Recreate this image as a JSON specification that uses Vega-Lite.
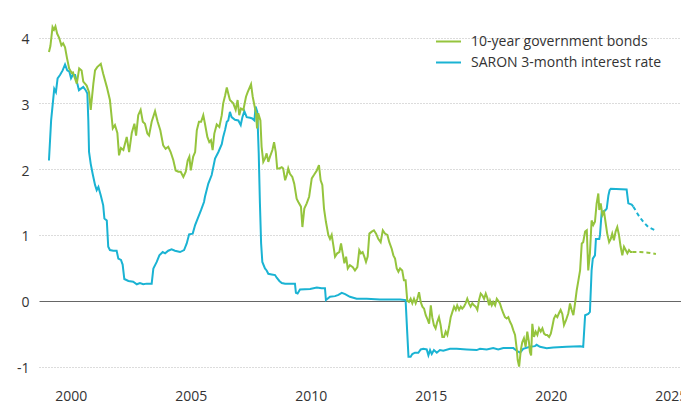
{
  "$schema": "https://vega.github.io/schema/vega-lite/v6.json",
  "autosize": "none",
  "width": 642,
  "height": 383,
  "padding": {"left": 39, "top": 0, "right": 0, "bottom": 20},
  "config": {
    "font": "Open Sans",
    "view": {"stroke": null},
    "axis": {"labelFontSize": 14, "labelColor": "#333333", "ticks": false, "domain": false, "title": null}
  },
  "datasets": {
    "bonds": [
{"year":1999.09,"rate":3.78},{"year":1999.15,"rate":3.87},{"year":1999.24,"rate":4.16},{"year":1999.30,"rate":4.12},{"year":1999.36,"rate":4.17},{"year":1999.43,"rate":4.06},{"year":1999.51,"rate":4.00},{"year":1999.61,"rate":3.88},{"year":1999.68,"rate":3.91},{"year":1999.76,"rate":3.85},{"year":1999.84,"rate":3.69},{"year":1999.93,"rate":3.53},{"year":2000.04,"rate":3.46},{"year":2000.09,"rate":3.47},{"year":2000.25,"rate":3.30},{"year":2000.35,"rate":3.53},{"year":2000.45,"rate":3.50},{"year":2000.52,"rate":3.33},{"year":2000.66,"rate":3.27},{"year":2000.76,"rate":3.17},{"year":2000.83,"rate":2.90},{"year":2000.94,"rate":3.30},{"year":2001.01,"rate":3.50},{"year":2001.10,"rate":3.55},{"year":2001.25,"rate":3.60},{"year":2001.35,"rate":3.45},{"year":2001.50,"rate":3.25},{"year":2001.63,"rate":3.05},{"year":2001.75,"rate":2.62},{"year":2001.84,"rate":2.67},{"year":2001.94,"rate":2.55},{"year":2002.01,"rate":2.21},{"year":2002.09,"rate":2.32},{"year":2002.19,"rate":2.29},{"year":2002.33,"rate":2.49},{"year":2002.43,"rate":2.26},{"year":2002.54,"rate":2.55},{"year":2002.65,"rate":2.69},{"year":2002.72,"rate":2.51},{"year":2002.81,"rate":2.82},{"year":2002.91,"rate":2.90},{"year":2003.00,"rate":2.72},{"year":2003.09,"rate":2.69},{"year":2003.19,"rate":2.54},{"year":2003.26,"rate":2.51},{"year":2003.37,"rate":2.72},{"year":2003.51,"rate":2.88},{"year":2003.62,"rate":2.72},{"year":2003.73,"rate":2.59},{"year":2003.85,"rate":2.36},{"year":2003.95,"rate":2.31},{"year":2004.06,"rate":2.34},{"year":2004.16,"rate":2.26},{"year":2004.27,"rate":2.14},{"year":2004.37,"rate":1.98},{"year":2004.48,"rate":1.96},{"year":2004.58,"rate":1.96},{"year":2004.69,"rate":1.88},{"year":2004.79,"rate":1.96},{"year":2004.87,"rate":2.13},{"year":2004.94,"rate":2.19},{"year":2005.00,"rate":1.98},{"year":2005.10,"rate":2.19},{"year":2005.18,"rate":2.26},{"year":2005.25,"rate":2.59},{"year":2005.34,"rate":2.72},{"year":2005.43,"rate":2.72},{"year":2005.52,"rate":2.82},{"year":2005.59,"rate":2.69},{"year":2005.69,"rate":2.49},{"year":2005.77,"rate":2.41},{"year":2005.84,"rate":2.44},{"year":2005.91,"rate":2.29},{"year":2005.98,"rate":2.54},{"year":2006.08,"rate":2.68},{"year":2006.19,"rate":2.64},{"year":2006.29,"rate":2.82},{"year":2006.35,"rate":3.00},{"year":2006.43,"rate":3.12},{"year":2006.50,"rate":3.24},{"year":2006.56,"rate":3.15},{"year":2006.63,"rate":3.05},{"year":2006.77,"rate":3.00},{"year":2006.87,"rate":2.90},{"year":2006.95,"rate":3.05},{"year":2007.02,"rate":2.82},{"year":2007.09,"rate":2.92},{"year":2007.19,"rate":2.90},{"year":2007.30,"rate":3.10},{"year":2007.37,"rate":3.17},{"year":2007.51,"rate":3.29},{"year":2007.58,"rate":3.10},{"year":2007.65,"rate":2.97},{"year":2007.72,"rate":2.84},{"year":2007.76,"rate":2.62},{"year":2007.81,"rate":2.85},{"year":2007.90,"rate":2.74},{"year":2007.95,"rate":2.34},{"year":2008.02,"rate":2.11},{"year":2008.09,"rate":2.16},{"year":2008.16,"rate":2.24},{"year":2008.23,"rate":2.11},{"year":2008.30,"rate":2.19},{"year":2008.40,"rate":2.29},{"year":2008.47,"rate":2.41},{"year":2008.54,"rate":2.26},{"year":2008.60,"rate":2.01},{"year":2008.69,"rate":2.01},{"year":2008.79,"rate":2.03},{"year":2008.85,"rate":2.01},{"year":2008.93,"rate":1.83},{"year":2009.00,"rate":1.91},{"year":2009.06,"rate":2.01},{"year":2009.13,"rate":1.93},{"year":2009.23,"rate":1.88},{"year":2009.31,"rate":1.78},{"year":2009.41,"rate":1.55},{"year":2009.48,"rate":1.50},{"year":2009.59,"rate":1.43},{"year":2009.65,"rate":1.12},{"year":2009.73,"rate":1.40},{"year":2009.83,"rate":1.48},{"year":2009.93,"rate":1.58},{"year":2010.04,"rate":1.86},{"year":2010.13,"rate":1.91},{"year":2010.25,"rate":1.98},{"year":2010.34,"rate":2.06},{"year":2010.41,"rate":1.83},{"year":2010.48,"rate":1.76},{"year":2010.55,"rate":1.40},{"year":2010.63,"rate":1.20},{"year":2010.73,"rate":1.00},{"year":2010.80,"rate":0.94},{"year":2010.87,"rate":1.00},{"year":2010.94,"rate":0.84},{"year":2011.01,"rate":0.67},{"year":2011.10,"rate":0.72},{"year":2011.19,"rate":0.74},{"year":2011.26,"rate":0.87},{"year":2011.33,"rate":0.72},{"year":2011.40,"rate":0.57},{"year":2011.47,"rate":0.67},{"year":2011.54,"rate":0.49},{"year":2011.63,"rate":0.54},{"year":2011.75,"rate":0.51},{"year":2011.84,"rate":0.46},{"year":2011.94,"rate":0.51},{"year":2012.02,"rate":0.77},{"year":2012.09,"rate":0.72},{"year":2012.16,"rate":0.74},{"year":2012.23,"rate":0.67},{"year":2012.30,"rate":0.59},{"year":2012.37,"rate":0.67},{"year":2012.44,"rate":1.02},{"year":2012.54,"rate":1.05},{"year":2012.63,"rate":1.07},{"year":2012.72,"rate":1.02},{"year":2012.81,"rate":0.94},{"year":2012.91,"rate":0.89},{"year":2013.00,"rate":1.07},{"year":2013.09,"rate":1.02},{"year":2013.19,"rate":1.00},{"year":2013.27,"rate":0.89},{"year":2013.37,"rate":0.79},{"year":2013.44,"rate":0.69},{"year":2013.51,"rate":0.64},{"year":2013.58,"rate":0.49},{"year":2013.65,"rate":0.44},{"year":2013.72,"rate":0.49},{"year":2013.81,"rate":0.46},{"year":2013.88,"rate":0.31},{"year":2013.95,"rate":0.31},{"year":2014.02,"rate":0.00},{"year":2014.09,"rate":-0.02},{"year":2014.16,"rate":0.03},{"year":2014.23,"rate":-0.04},{"year":2014.30,"rate":0.03},{"year":2014.37,"rate":-0.04},{"year":2014.44,"rate":0.03},{"year":2014.51,"rate":0.13},{"year":2014.58,"rate":-0.02},{"year":2014.65,"rate":-0.09},{"year":2014.72,"rate":-0.12},{"year":2014.79,"rate":-0.22},{"year":2014.85,"rate":-0.27},{"year":2014.93,"rate":-0.35},{"year":2015.00,"rate":-0.07},{"year":2015.06,"rate":-0.25},{"year":2015.13,"rate":-0.37},{"year":2015.20,"rate":-0.42},{"year":2015.27,"rate":-0.32},{"year":2015.34,"rate":-0.25},{"year":2015.41,"rate":-0.37},{"year":2015.48,"rate":-0.55},{"year":2015.55,"rate":-0.55},{"year":2015.62,"rate":-0.47},{"year":2015.69,"rate":-0.52},{"year":2015.76,"rate":-0.40},{"year":2015.83,"rate":-0.25},{"year":2015.90,"rate":-0.17},{"year":2015.97,"rate":-0.09},{"year":2016.04,"rate":-0.14},{"year":2016.10,"rate":-0.07},{"year":2016.18,"rate":-0.14},{"year":2016.25,"rate":-0.09},{"year":2016.31,"rate":-0.12},{"year":2016.38,"rate":-0.09},{"year":2016.45,"rate":-0.04},{"year":2016.52,"rate":0.03},{"year":2016.59,"rate":-0.04},{"year":2016.66,"rate":-0.09},{"year":2016.73,"rate":-0.04},{"year":2016.80,"rate":-0.07},{"year":2016.87,"rate":-0.09},{"year":2016.94,"rate":-0.14},{"year":2017.01,"rate":0.01},{"year":2017.08,"rate":0.11},{"year":2017.15,"rate":0.08},{"year":2017.22,"rate":0.03},{"year":2017.29,"rate":0.11},{"year":2017.35,"rate":0.05},{"year":2017.43,"rate":-0.07},{"year":2017.47,"rate":0.00},{"year":2017.54,"rate":-0.07},{"year":2017.60,"rate":-0.02},{"year":2017.68,"rate":-0.07},{"year":2017.75,"rate":0.03},{"year":2017.81,"rate":0.00},{"year":2017.88,"rate":-0.04},{"year":2017.95,"rate":-0.12},{"year":2018.02,"rate":-0.19},{"year":2018.09,"rate":-0.25},{"year":2018.16,"rate":-0.27},{"year":2018.23,"rate":-0.25},{"year":2018.30,"rate":-0.32},{"year":2018.37,"rate":-0.37},{"year":2018.44,"rate":-0.45},{"year":2018.51,"rate":-0.52},{"year":2018.58,"rate":-0.73},{"year":2018.62,"rate":-0.90},{"year":2018.68,"rate":-1.00},{"year":2018.75,"rate":-0.75},{"year":2018.81,"rate":-0.63},{"year":2018.88,"rate":-0.57},{"year":2018.95,"rate":-0.70},{"year":2019.02,"rate":-0.47},{"year":2019.09,"rate":-0.63},{"year":2019.13,"rate":-0.78},{"year":2019.18,"rate":-0.83},{"year":2019.23,"rate":-0.35},{"year":2019.30,"rate":-0.55},{"year":2019.37,"rate":-0.47},{"year":2019.44,"rate":-0.52},{"year":2019.51,"rate":-0.42},{"year":2019.58,"rate":-0.47},{"year":2019.65,"rate":-0.42},{"year":2019.72,"rate":-0.50},{"year":2019.79,"rate":-0.52},{"year":2019.85,"rate":-0.52},{"year":2019.93,"rate":-0.55},{"year":2020.00,"rate":-0.50},{"year":2020.06,"rate":-0.40},{"year":2020.13,"rate":-0.27},{"year":2020.20,"rate":-0.22},{"year":2020.27,"rate":-0.25},{"year":2020.34,"rate":-0.19},{"year":2020.41,"rate":-0.14},{"year":2020.48,"rate":-0.20},{"year":2020.55,"rate":-0.37},{"year":2020.63,"rate":-0.30},{"year":2020.73,"rate":-0.19},{"year":2020.80,"rate":-0.04},{"year":2020.87,"rate":-0.14},{"year":2020.94,"rate":-0.22},{"year":2021.01,"rate":-0.04},{"year":2021.08,"rate":0.16},{"year":2021.15,"rate":0.31},{"year":2021.22,"rate":0.46},{"year":2021.29,"rate":0.87},{"year":2021.35,"rate":0.89},{"year":2021.43,"rate":1.05},{"year":2021.50,"rate":1.07},{"year":2021.56,"rate":0.46},{"year":2021.63,"rate":0.72},{"year":2021.70,"rate":1.22},{"year":2021.77,"rate":1.15},{"year":2021.84,"rate":1.20},{"year":2021.91,"rate":1.48},{"year":2021.98,"rate":1.63},{"year":2022.02,"rate":1.38},{"year":2022.08,"rate":1.48},{"year":2022.15,"rate":1.30},{"year":2022.22,"rate":1.35},{"year":2022.29,"rate":1.17},{"year":2022.35,"rate":1.02},{"year":2022.43,"rate":0.89},{"year":2022.50,"rate":0.94},{"year":2022.56,"rate":1.02},{"year":2022.63,"rate":0.92},{"year":2022.70,"rate":1.05},{"year":2022.77,"rate":1.12},{"year":2022.84,"rate":1.00},{"year":2022.91,"rate":0.82},{"year":2022.98,"rate":0.69},{"year":2023.05,"rate":0.82},{"year":2023.12,"rate":0.77},{"year":2023.19,"rate":0.72},{"year":2023.26,"rate":0.77},{"year":2023.33,"rate":0.74},{"year":2023.40,"rate":0.74}
    ],
    "bondsForecast": [
{"year":2023.40,"rate":0.74},{"year":2023.72,"rate":0.74},{"year":2024.05,"rate":0.73},{"year":2024.38,"rate":0.71}
    ],
    "saron": [
{"year":1999.09,"rate":2.13},{"year":1999.18,"rate":2.74},{"year":1999.31,"rate":3.22},{"year":1999.38,"rate":3.17},{"year":1999.45,"rate":3.38},{"year":1999.55,"rate":3.43},{"year":1999.66,"rate":3.50},{"year":1999.76,"rate":3.59},{"year":1999.85,"rate":3.50},{"year":1999.94,"rate":3.48},{"year":2000.01,"rate":3.38},{"year":2000.08,"rate":3.43},{"year":2000.18,"rate":3.43},{"year":2000.25,"rate":3.33},{"year":2000.34,"rate":3.20},{"year":2000.41,"rate":3.22},{"year":2000.52,"rate":3.25},{"year":2000.62,"rate":3.20},{"year":2000.69,"rate":3.15},{"year":2000.73,"rate":2.74},{"year":2000.76,"rate":2.26},{"year":2000.83,"rate":2.08},{"year":2000.91,"rate":1.93},{"year":2001.01,"rate":1.76},{"year":2001.08,"rate":1.68},{"year":2001.15,"rate":1.73},{"year":2001.25,"rate":1.60},{"year":2001.35,"rate":1.45},{"year":2001.40,"rate":1.25},{"year":2001.50,"rate":1.22},{"year":2001.56,"rate":0.82},{"year":2001.63,"rate":0.77},{"year":2001.77,"rate":0.76},{"year":2001.91,"rate":0.76},{"year":2001.98,"rate":0.64},{"year":2002.09,"rate":0.62},{"year":2002.16,"rate":0.55},{"year":2002.23,"rate":0.33},{"year":2002.40,"rate":0.30},{"year":2002.60,"rate":0.29},{"year":2002.75,"rate":0.25},{"year":2002.88,"rate":0.27},{"year":2003.02,"rate":0.25},{"year":2003.16,"rate":0.26},{"year":2003.37,"rate":0.26},{"year":2003.44,"rate":0.49},{"year":2003.58,"rate":0.59},{"year":2003.69,"rate":0.69},{"year":2003.83,"rate":0.74},{"year":2003.93,"rate":0.72},{"year":2004.06,"rate":0.76},{"year":2004.20,"rate":0.78},{"year":2004.34,"rate":0.76},{"year":2004.55,"rate":0.74},{"year":2004.72,"rate":0.77},{"year":2004.83,"rate":0.87},{"year":2004.93,"rate":1.01},{"year":2005.08,"rate":1.02},{"year":2005.18,"rate":1.15},{"year":2005.29,"rate":1.25},{"year":2005.43,"rate":1.38},{"year":2005.55,"rate":1.50},{"year":2005.59,"rate":1.58},{"year":2005.73,"rate":1.78},{"year":2005.87,"rate":1.91},{"year":2006.01,"rate":2.16},{"year":2006.15,"rate":2.26},{"year":2006.29,"rate":2.38},{"year":2006.35,"rate":2.49},{"year":2006.43,"rate":2.60},{"year":2006.50,"rate":2.72},{"year":2006.56,"rate":2.74},{"year":2006.63,"rate":2.87},{"year":2006.70,"rate":2.79},{"year":2006.84,"rate":2.75},{"year":2006.98,"rate":2.74},{"year":2007.08,"rate":2.67},{"year":2007.15,"rate":2.79},{"year":2007.23,"rate":2.88},{"year":2007.33,"rate":2.79},{"year":2007.47,"rate":2.78},{"year":2007.56,"rate":2.77},{"year":2007.65,"rate":2.74},{"year":2007.70,"rate":2.95},{"year":2007.77,"rate":2.87},{"year":2007.83,"rate":2.24},{"year":2007.88,"rate":1.48},{"year":2007.93,"rate":0.87},{"year":2007.98,"rate":0.59},{"year":2008.09,"rate":0.49},{"year":2008.16,"rate":0.46},{"year":2008.23,"rate":0.41},{"year":2008.37,"rate":0.40},{"year":2008.51,"rate":0.39},{"year":2008.58,"rate":0.35},{"year":2008.69,"rate":0.30},{"year":2008.79,"rate":0.27},{"year":2008.93,"rate":0.26},{"year":2009.34,"rate":0.26},{"year":2009.38,"rate":0.12},{"year":2009.45,"rate":0.11},{"year":2009.55,"rate":0.17},{"year":2009.97,"rate":0.18},{"year":2010.25,"rate":0.20},{"year":2010.45,"rate":0.19},{"year":2010.59,"rate":0.19},{"year":2010.63,"rate":0.01},{"year":2010.80,"rate":0.06},{"year":2011.01,"rate":0.07},{"year":2011.15,"rate":0.09},{"year":2011.29,"rate":0.12},{"year":2011.43,"rate":0.10},{"year":2011.63,"rate":0.06},{"year":2011.91,"rate":0.03},{"year":2012.33,"rate":0.03},{"year":2012.88,"rate":0.02},{"year":2013.72,"rate":0.02},{"year":2013.95,"rate":0.01},{"year":2014.02,"rate":-0.50},{"year":2014.07,"rate":-0.85},{"year":2014.16,"rate":-0.85},{"year":2014.23,"rate":-0.81},{"year":2014.34,"rate":-0.79},{"year":2014.48,"rate":-0.79},{"year":2014.58,"rate":-0.74},{"year":2014.69,"rate":-0.73},{"year":2014.83,"rate":-0.74},{"year":2014.90,"rate":-0.83},{"year":2014.97,"rate":-0.75},{"year":2015.04,"rate":-0.81},{"year":2015.13,"rate":-0.75},{"year":2015.25,"rate":-0.79},{"year":2015.38,"rate":-0.75},{"year":2015.52,"rate":-0.76},{"year":2015.80,"rate":-0.73},{"year":2016.08,"rate":-0.73},{"year":2016.50,"rate":-0.74},{"year":2016.91,"rate":-0.75},{"year":2017.05,"rate":-0.73},{"year":2017.33,"rate":-0.74},{"year":2017.60,"rate":-0.72},{"year":2017.81,"rate":-0.74},{"year":2018.02,"rate":-0.72},{"year":2018.44,"rate":-0.72},{"year":2018.58,"rate":-0.76},{"year":2018.72,"rate":-0.79},{"year":2018.85,"rate":-0.73},{"year":2019.13,"rate":-0.70},{"year":2019.34,"rate":-0.69},{"year":2019.41,"rate":-0.67},{"year":2019.55,"rate":-0.70},{"year":2019.83,"rate":-0.72},{"year":2020.10,"rate":-0.71},{"year":2020.66,"rate":-0.70},{"year":2021.22,"rate":-0.69},{"year":2021.35,"rate":-0.70},{"year":2021.43,"rate":-0.22},{"year":2021.56,"rate":-0.20},{"year":2021.63,"rate":-0.17},{"year":2021.70,"rate":0.46},{"year":2021.75,"rate":0.64},{"year":2021.84,"rate":0.69},{"year":2021.88,"rate":0.94},{"year":2022.02,"rate":0.94},{"year":2022.05,"rate":1.00},{"year":2022.12,"rate":1.35},{"year":2022.26,"rate":1.37},{"year":2022.33,"rate":1.40},{"year":2022.40,"rate":1.60},{"year":2022.45,"rate":1.68},{"year":2022.50,"rate":1.70},{"year":2023.16,"rate":1.69},{"year":2023.23,"rate":1.48},{"year":2023.37,"rate":1.46},{"year":2023.44,"rate":1.43}
    ],
    "saronForecast": [
{"year":2023.44,"rate":1.43},{"year":2023.65,"rate":1.30},{"year":2023.85,"rate":1.20},{"year":2024.06,"rate":1.12},{"year":2024.34,"rate":1.07}
    ]
  },
  "layer": [
    {
      "data": {"name": "saron"},
      "mark": {"type": "line", "strokeWidth": 2},
      "encoding": {
        "x": {"field": "year", "type": "quantitative",
              "scale": {"domain": [1998.675, 2025.425], "nice": false, "zero": false},
              "axis": {"values": [2000, 2005, 2010, 2015, 2020, 2025], "format": "d", "labelFlush": false, "labelOverlap": false, "labelBaseline": "alphabetic", "labelPadding": 17, "grid": false}},
        "y": {"field": "rate", "type": "quantitative",
              "scale": {"domain": [-1.25, 4.57], "nice": false, "zero": false},
              "axis": {"values": [-1, 0, 1, 2, 3, 4], "labelExpr": "'' + datum.value", "labelPadding": 10, "labelOffset": 2,
                       "grid": true,
                       "gridColor": {"condition": {"test": "datum.value === 0", "value": "#666666"}, "value": "#b8b8b8"},
                       "gridDash": {"condition": {"test": "datum.value === 0", "value": []}, "value": [1, 2]},
                       "gridWidth": 1}},
        "color": {"datum": "SARON 3-month interest rate", "type": "nominal",
                  "scale": {"domain": ["10-year government bonds", "SARON 3-month interest rate"], "range": ["#95c43d", "#1ab3d3"]},
                  "legend": {"orient": "none", "legendX": 396, "legendY": 28, "title": null, "symbolType": "stroke", "symbolSize": 625, "symbolStrokeWidth": 2, "labelFontSize": 14, "labelColor": "#333333", "labelOffset": 9, "labelLimit": 400, "rowPadding": 0, "padding": 0}}
      }
    },
    {
      "data": {"name": "bonds"},
      "mark": {"type": "line", "strokeWidth": 2},
      "encoding": {
        "x": {"field": "year", "type": "quantitative"},
        "y": {"field": "rate", "type": "quantitative"},
        "color": {"datum": "10-year government bonds", "type": "nominal"}
      }
    },
    {
      "data": {"name": "saronForecast"},
      "mark": {"type": "line", "strokeWidth": 2, "strokeDash": [4, 3], "color": "#1ab3d3"},
      "encoding": {
        "x": {"field": "year", "type": "quantitative"},
        "y": {"field": "rate", "type": "quantitative"}
      }
    },
    {
      "data": {"name": "bondsForecast"},
      "mark": {"type": "line", "strokeWidth": 2, "strokeDash": [4, 3], "color": "#95c43d"},
      "encoding": {
        "x": {"field": "year", "type": "quantitative"},
        "y": {"field": "rate", "type": "quantitative"}
      }
    }
  ]
}
